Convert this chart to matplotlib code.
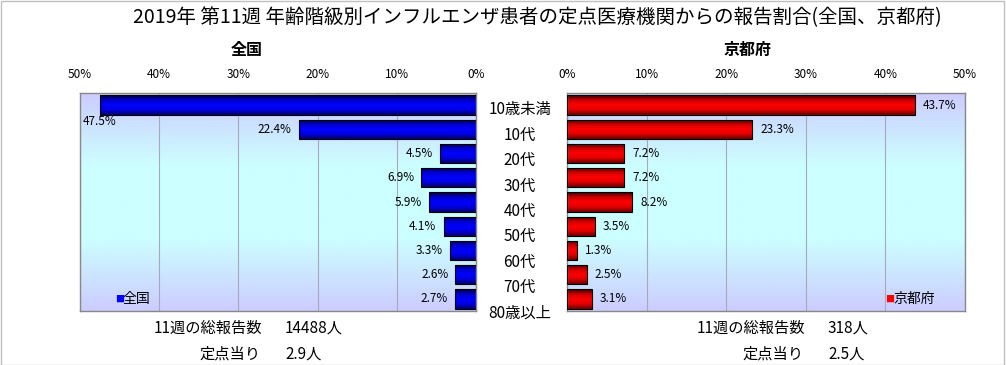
import numpy as np
import matplotlib
matplotlib.use("Agg")
import matplotlib.pyplot as plt
from matplotlib.colors import LinearSegmentedColormap
from matplotlib.patches import Rectangle

plt.rcParams['font.family'] = ['Noto Sans CJK JP', 'DejaVu Sans']

categories = ["10歳未満", "10代", "20代", "30代", "40代", "50代", "60代", "70代", "80歳以上"]
national = [47.5, 22.4, 4.5, 6.9, 5.9, 4.1, 3.3, 2.6, 2.7]
kyoto = [43.7, 23.3, 7.2, 7.2, 8.2, 3.5, 1.3, 2.5, 3.1]
ticks = [0, 10, 20, 30, 40, 50]
tick_labels = ["0%", "10%", "20%", "30%", "40%", "50%"]
title = "2019年 第11週 年齢階級別インフルエンザ患者の定点医療機関からの報告割合(全国、京都府)"
nat_total = "14488人"
nat_per = "2.9人"
kyo_total = "318人"
kyo_per = "2.5人"

W, H = 1006, 365
fig = plt.figure(figsize=(W / 100, H / 100), dpi=100)
fig.patch.set_facecolor("white")

def fx(px):
    return px / W

def fy(py):
    return 1 - py / H

bg_cmap = LinearSegmentedColormap.from_list("bg", ["#ccccff", "#ccffff", "#ccffff", "#ccccff"])
blue_cmap = LinearSegmentedColormap.from_list("bl", ["#00003a", "#0000c8", "#0000ff", "#0000e0", "#00006a"])
red_cmap = LinearSegmentedColormap.from_list("rd", ["#3a0000", "#c80000", "#ff0000", "#e00000", "#6a0000"])

def style_axes(ax, invert):
    n = len(categories)
    grad = np.linspace(0, 1, 256).reshape(-1, 1)
    ax.imshow(grad, cmap=bg_cmap, aspect="auto", extent=[0, 50, n - 0.5, -0.5],
              zorder=0, interpolation="bilinear")
    ax.set_xlim((50, 0) if invert else (0, 50))
    ax.set_ylim(n - 0.5, -0.5)
    ax.xaxis.tick_top()
    ax.set_xticks(ticks)
    ax.set_xticklabels(tick_labels, fontsize=8.5)
    ax.tick_params(axis="x", length=0, pad=9)
    ax.set_yticks([])
    ax.grid(axis="x", color="#a8a8b8", linewidth=0.8, zorder=1)
    for s in ax.spines.values():
        s.set_color("#888888")
        s.set_linewidth(1.0)

def draw_bars(ax, vals, cmap):
    y = np.arange(len(vals))
    bars = ax.barh(y, vals, height=0.8, color="none", edgecolor="black", linewidth=0.8, zorder=3)
    grad = np.linspace(0, 1, 64).reshape(-1, 1)
    for b in bars:
        x0, y0 = b.get_x(), b.get_y()
        w, h = b.get_width(), b.get_height()
        im = ax.imshow(grad, cmap=cmap, aspect="auto", extent=[x0, x0 + w, y0 + h, y0],
                       zorder=2, interpolation="bilinear")
        im.set_clip_path(b)
    return bars

# left (national)
axL = fig.add_axes([fx(80), fy(311), fx(396), 218 / H])
style_axes(axL, True)
draw_bars(axL, national, blue_cmap)
for i, v in enumerate(national):
    if v > 45:
        axL.text(v, i + 0.68, f"{v:.1f}%", ha="center", va="center", fontsize=8.5, zorder=4)
    else:
        axL.text(v + 0.9, i, f"{v:.1f}%", ha="right", va="center", fontsize=8.5, zorder=4)
axL.text(0.088, 0.055, "■", transform=axL.transAxes, color="#0000ff", fontsize=6.5,
         ha="left", va="center", zorder=5)
axL.text(0.108, 0.055, "全国", transform=axL.transAxes, fontsize=10, ha="left", va="center", zorder=5)

# right (Kyoto)
axR = fig.add_axes([fx(567), fy(311), fx(398), 218 / H])
style_axes(axR, False)
draw_bars(axR, kyoto, red_cmap)
for i, v in enumerate(kyoto):
    axR.text(v + 1.0, i, f"{v:.1f}%", ha="left", va="center", fontsize=8.5, zorder=4)
axR.text(0.800, 0.055, "■", transform=axR.transAxes, color="#ff0000", fontsize=6.5,
         ha="left", va="center", zorder=5)
axR.text(0.820, 0.055, "京都府", transform=axR.transAxes, fontsize=10, ha="left", va="center", zorder=5)

# category labels in the middle
axM = fig.add_axes([fx(476), fy(325.7), fx(91), 228.4 / H])
axM.set_xlim(0, 1)
axM.set_ylim(len(categories) - 0.5, -0.5)
axM.axis("off")
for i, c in enumerate(categories):
    axM.text(0.48, i, c, ha="center", va="center", fontsize=11)

# titles
fig.text(fx(537), fy(18), title, ha="center", va="center", fontsize=14)
fig.text(fx(247), fy(50), "全国", ha="center", va="center", fontsize=11.5, fontweight="bold")
fig.text(fx(748), fy(50), "京都府", ha="center", va="center", fontsize=11.5, fontweight="bold")

# summary texts
fs = 11
fig.text(fx(262), fy(328), "11週の総報告数", ha="right", va="center", fontsize=fs)
fig.text(fx(285), fy(328), nat_total, ha="left", va="center", fontsize=fs)
fig.text(fx(260), fy(354), "定点当り", ha="right", va="center", fontsize=fs)
fig.text(fx(285), fy(354), nat_per, ha="left", va="center", fontsize=fs)
fig.text(fx(805), fy(328), "11週の総報告数", ha="right", va="center", fontsize=fs)
fig.text(fx(828), fy(328), kyo_total, ha="left", va="center", fontsize=fs)
fig.text(fx(803), fy(354), "定点当り", ha="right", va="center", fontsize=fs)
fig.text(fx(828), fy(354), kyo_per, ha="left", va="center", fontsize=fs)

# outer frame
fig.patches.append(Rectangle((0.0005, 0.001), 0.998, 0.997, transform=fig.transFigure,
                             fill=False, edgecolor="#c0c0c0", linewidth=1.0))

fig.savefig("out.png", dpi=100, facecolor="white")
